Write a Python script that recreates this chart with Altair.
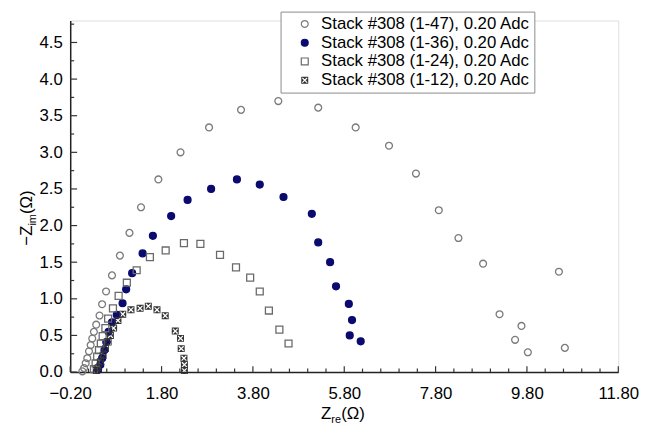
import altair as alt
import pandas as pd

series_names = [
    "Stack #308 (1-47), 0.20 Adc",
    "Stack #308 (1-36), 0.20 Adc",
    "Stack #308 (1-24), 0.20 Adc",
    "Stack #308 (1-12), 0.20 Adc",
]

s47_x = [0.066, 0.103, 0.139, 0.174, 0.211, 0.248, 0.282, 0.319, 0.369, 0.442, 0.498, 0.585,
         0.715, 0.888, 1.097, 1.35, 1.73, 2.215, 2.84, 3.54, 4.356, 5.23, 6.05, 6.78, 7.37,
         7.87, 8.30, 8.84, 9.20, 9.68, 9.54, 9.82, 10.50, 10.63]
s47_y = [0.01, 0.054, 0.121, 0.189, 0.283, 0.368, 0.458, 0.549, 0.647, 0.772, 0.926, 1.10,
         1.32, 1.59, 1.90, 2.25, 2.63, 3.00, 3.34, 3.58, 3.70, 3.61, 3.34, 3.09, 2.71,
         2.21, 1.83, 1.48, 0.79, 0.63, 0.44, 0.27, 1.37, 0.33]

s36_x = [0.41, 0.46, 0.50, 0.55, 0.59, 0.64, 0.715, 0.82, 0.946, 1.025, 1.156, 1.385, 1.61,
         2.01, 2.37, 2.885, 3.45, 3.95, 4.47, 5.09, 5.23, 5.49, 5.62, 5.90, 5.97, 5.92, 6.16]
s36_y = [0.03, 0.10, 0.19, 0.30, 0.41, 0.55, 0.68, 0.78, 0.94, 1.13, 1.35, 1.62, 1.86,
         2.13, 2.35, 2.50, 2.63, 2.56, 2.39, 2.16, 1.77, 1.50, 1.17, 0.93, 0.71, 0.50, 0.42]

s24_x = [0.32, 0.356, 0.39, 0.43, 0.47, 0.51, 0.57, 0.63, 0.736, 0.86, 1.04, 1.255, 1.545,
         1.89, 2.29, 2.65, 3.08, 3.43, 3.74, 3.95, 4.15, 4.38, 4.58]
s24_y = [0.04, 0.12, 0.21, 0.30, 0.39, 0.49, 0.60, 0.73, 0.87, 1.04, 1.22, 1.39, 1.57,
         1.66, 1.76, 1.75, 1.60, 1.43, 1.29, 1.10, 0.84, 0.58, 0.39]

s12_x = [0.37, 0.41, 0.46, 0.52, 0.57, 0.63, 0.68, 0.75, 0.845, 0.95, 1.13, 1.33, 1.51,
         1.70, 1.88, 2.10, 2.215, 2.23, 2.29, 2.30, 2.30]
s12_y = [0.02, 0.06, 0.14, 0.23, 0.32, 0.41, 0.50, 0.60, 0.705, 0.79, 0.85, 0.87, 0.90,
         0.85, 0.77, 0.56, 0.46, 0.32, 0.19, 0.10, 0.02]

x_major = [-0.2, 1.8, 3.8, 5.8, 7.8, 9.8, 11.8]
y_major = [0.0, 0.5, 1.0, 1.5, 2.0, 2.5, 3.0, 3.5, 4.0, 4.5]

rows = []
for name, xs_, ys_ in zip(series_names, [s47_x, s36_x, s24_x, s12_x], [s47_y, s36_y, s24_y, s12_y]):
    for a, b in zip(xs_, ys_):
        rows.append({"series": name, "zre": a, "zim": b})
df = pd.DataFrame(rows)

x_minor = [round(m + 0.4 * k, 2) for m in x_major[:-1] for k in range(1, 5)]
y_minor = [round(v + 0.25, 2) for v in y_major]

W, H = 555, 356
FONT = "Liberation Sans"
NAVY = "#0a0a70"
DARK = "#333333"
XSQ = ("M-1,-1L1,-1L1,1L-1,1Z M-0.75,-0.75L-0.75,0.75L0.75,0.75L0.75,-0.75Z "
       "M-0.5,-0.75L0.5,-0.75L0,-0.25Z M0.75,-0.5L0.75,0.5L0.25,0Z "
       "M0.5,0.75L-0.5,0.75L0,0.25Z M-0.75,0.5L-0.75,-0.5L-0.25,0Z")

xs = alt.Scale(domain=[-0.2, 11.8], nice=False, zero=False)
ys = alt.Scale(domain=[0, 4.8], nice=False, zero=False)

xa = alt.Axis(values=x_major, format=".2f", title=None, ticks=False, grid=False,
              labelFontSize=17, labelFont=FONT, labelColor="black", labelPadding=14,
              domainColor="#222", domainWidth=1.5, labelFlush=False, labelOverlap=False)
ya = alt.Axis(values=y_major, format=".1f", title=None, ticks=False, grid=False,
              labelFontSize=17, labelFont=FONT, labelColor="black", labelPadding=8,
              domainColor="#222", domainWidth=1.5, labelFlush=False, labelOverlap=False)

leg = alt.Legend(
    title=None, orient="none", legendX=213, legendY=-9,
    fillColor="white", strokeColor="#8a8a8a", padding=4, symbolOffset=12,
    labelFontSize=17, labelFont=FONT, labelColor="black", labelLimit=400,
    rowPadding=1, labelOffset=8, symbolStrokeWidth=1.2, cornerRadius=0,
)

points = alt.Chart(df).mark_point(strokeWidth=1.3, opacity=1).encode(
    x=alt.X("zre:Q", scale=xs, axis=xa),
    y=alt.Y("zim:Q", scale=ys, axis=ya),
    shape=alt.Shape("series:N", scale=alt.Scale(domain=series_names, range=["circle", "circle", "square", XSQ]), legend=leg),
    fill=alt.Fill("series:N", scale=alt.Scale(domain=series_names, range=["transparent", NAVY, "transparent", DARK]), legend=leg),
    stroke=alt.Stroke("series:N", scale=alt.Scale(domain=series_names, range=["#7a7a7a", NAVY, "#6a6a6a", "transparent"]), legend=leg),
    size=alt.Size("series:N", scale=alt.Scale(domain=series_names, range=[48, 50, 46, 80]), legend=leg),
)

def xticks(vals, length):
    return alt.Chart(pd.DataFrame({"zre": vals})).mark_rule(color="#333", strokeWidth=1.2).encode(
        x=alt.X("zre:Q", scale=xs, axis=xa), y=alt.value(H), y2=alt.value(H - length))

def yticks(vals, length):
    return alt.Chart(pd.DataFrame({"zim": vals})).mark_rule(color="#333", strokeWidth=1.2).encode(
        y=alt.Y("zim:Q", scale=ys, axis=ya), x=alt.value(0), x2=alt.value(length))

def txt(t, x, y, size, angle=0):
    return alt.Chart(pd.DataFrame({"t": [t]})).mark_text(
        font=FONT, fontSize=size, color="black", align="left", baseline="alphabetic", angle=angle
    ).encode(text="t:N", x=alt.value(x), y=alt.value(y))

# x title: Z_re(Ω)
xs0 = 254
xb = 404
xtitle = [txt("Z", xs0, xb, 17), txt("re", xs0 + 10.4, xb + 4, 11), txt("(Ω)", xs0 + 20.4, xb, 17)]
# y title: −Z_im(Ω) rotated
ys0 = 228
ytitle = [txt("−Z", -39, ys0, 17, 270), txt("im", -35, ys0 - 20.3, 11, 270), txt("(Ω)", -39, ys0 - 32.0, 17, 270)]

chart = alt.layer(
    points, xticks(x_major, 6), xticks(x_minor, 3.5), yticks(y_major, 7), yticks(y_minor, 4),
    *xtitle, *ytitle,
).properties(
    width=W, height=H,
    autosize=alt.AutoSizeParams(type="none"),
    padding={"left": 63, "top": 10, "right": 23, "bottom": 55},
).configure_view(stroke="#4a4a4a", strokeWidth=2.5).configure(background="white")

chart.save("out.html", embed_options={"renderer": "svg", "actions": False})
